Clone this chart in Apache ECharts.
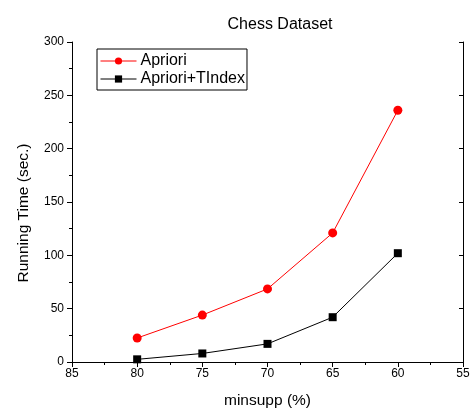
<!DOCTYPE html>
<html><head><meta charset="utf-8">
<script src="https://cdn.jsdelivr.net/npm/echarts@6/dist/echarts.min.js"></script>
<style>html,body{margin:0;padding:0;background:#fff}#c{width:470px;height:410px}</style>
</head><body><div id="c"></div>
<script>
var minsupp = [80, 75, 70, 65, 60];
var apriori = [22.5, 44, 68.5, 121, 236];
var aprioriTIndex = [2.5, 8, 17, 42, 102];
var seriesNames = ['Apriori', 'Apriori+TIndex'];
var xTicks = [85, 80, 75, 70, 65, 60, 55];
var yTicks = [0, 50, 100, 150, 200, 250, 300];

var F = 'Liberation Sans, Arial, sans-serif';
var chart = echarts.init(document.getElementById('c'));
function pairs(v){ return minsupp.map(function(x,i){return [x, v[i]];}); }
var axLine = {show:true, lineStyle:{color:'#000', width:1}};
chart.setOption({
  animation:false,
  title:{text:'Chess Dataset', left:275, top:12, textAlign:'center',
    textStyle:{fontFamily:F, fontSize:16, fontWeight:'normal', color:'#000'}},
  grid:{left:72, right:7, top:42, bottom:48, outerBoundsMode:'none', containLabel:false},
  legend:{left:97, top:49, orient:'vertical', itemGap:2, itemWidth:36, itemHeight:9,
    borderColor:'#000', borderWidth:1, padding:[4,2,3,3], borderRadius:0,
    lineStyle:{width:1}, textStyle:{fontFamily:F, fontSize:16, color:'#000', padding:[0,0,0,-1]},
    data:[{name:seriesNames[0]},{name:seriesNames[1]}]},
  xAxis:[{type:'value', inverse:true, min:55, max:85, interval:5, position:'bottom',
    name:'minsupp (%)', nameLocation:'middle', nameGap:31,
    nameTextStyle:{fontFamily:F, fontSize:15.5, color:'#000'},
    axisLine:axLine, axisTick:{show:true, inside:false, length:5, lineStyle:{color:'#000'}},
    minorTick:{show:true, splitNumber:2, length:3, lineStyle:{color:'#000'}},
    axisLabel:{fontFamily:F, fontSize:12, color:'#000', margin:6, formatter:function(v){return xTicks.indexOf(v)>=0?String(v):'';}},
    splitLine:{show:false}},
   {type:'value', inverse:true, min:55, max:85, interval:5, position:'top',
    axisLine:axLine, axisTick:{show:true, inside:true, length:4, lineStyle:{color:'#000'}},
    minorTick:{show:false}, axisLabel:{show:false}, splitLine:{show:false}}],
  yAxis:[{type:'value', min:0, max:300, interval:50, position:'left',
    name:'Running Time (sec.)', nameLocation:'middle', nameGap:40,
    nameTextStyle:{fontFamily:F, fontSize:15.5, color:'#000', padding:[0,22,0,0]},
    axisLine:axLine, axisTick:{show:true, inside:false, length:5, lineStyle:{color:'#000'}},
    minorTick:{show:true, splitNumber:2, length:3, lineStyle:{color:'#000'}},
    axisLabel:{fontFamily:F, fontSize:12, color:'#000', margin:8, formatter:function(v){return yTicks.indexOf(v)>=0?String(v):'';}},
    splitLine:{show:false}},
   {type:'value', min:0, max:300, interval:50, position:'right',
    axisLine:axLine, axisTick:{show:true, inside:true, length:4, lineStyle:{color:'#000'}},
    minorTick:{show:false}, axisLabel:{show:false}, splitLine:{show:false}}],
  series:[
    {name:seriesNames[0], type:'line', xAxisIndex:0, yAxisIndex:0, data:pairs(apriori),
     symbol:'circle', symbolSize:9, color:'#ff0000', lineStyle:{width:1, color:'#ff0000'},
     itemStyle:{color:'#ff0000'}},
    {name:seriesNames[1], type:'line', xAxisIndex:0, yAxisIndex:0, data:pairs(aprioriTIndex),
     symbol:'rect', symbolSize:8, color:'#000', lineStyle:{width:1, color:'#000'},
     itemStyle:{color:'#000'}}
  ]
});
</script></body></html>
